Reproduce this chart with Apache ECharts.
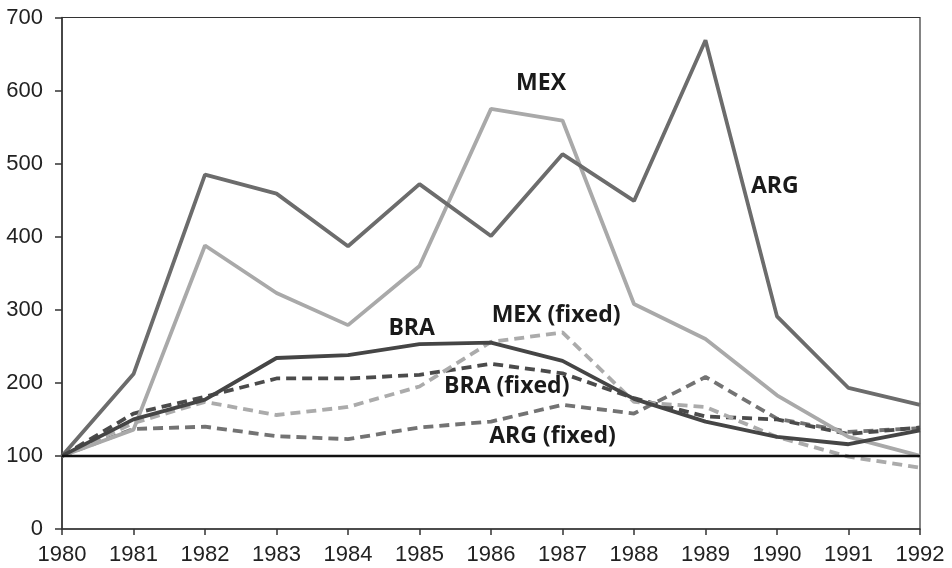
<!DOCTYPE html>
<html>
<head>
<meta charset="utf-8">
<script src="https://cdn.jsdelivr.net/npm/echarts@6/dist/echarts.min.js"></script>
<style>html,body{margin:0;padding:0;background:#fff}#c{width:952px;height:568px}</style>
</head>
<body>
<div id="c"></div>
<script>
var years = [1980,1981,1982,1983,1984,1985,1986,1987,1988,1989,1990,1991,1992];
var arg      = [100,212,485,459,387,472,401,513,449,669,291,193,170];
var mex      = [100,136,388,323,279,360,575,559,308,260,183,126,100];
var bra      = [100,150,177,234,238,253,255,230,178,147,126,116,135];
var argFixed = [100,137,140,127,123,139,147,170,158,208,151,133,138];
var braFixed = [100,158,181,206,206,211,226,213,179,154,150,130,139];
var mexFixed = [100,145,174,156,167,195,256,269,174,167,126,99,84];
var base     = [100,100,100,100,100,100,100,100,100,100,100,100,100];
var yTicks   = [0,100,200,300,400,500,600,700];

var labelNames = ['MEX','ARG','BRA','MEX (fixed)','BRA (fixed)','ARG (fixed)'];
var labelX     = [1986.70,1989.97,1984.89,1986.91,1986.22,1986.86];
var labelY     = [610,469,275,292,195,126];

function pairs(v){ return years.map(function(y,i){ return [y, v[i]]; }); }

var chart = echarts.init(document.getElementById('c'), null, {renderer:'canvas'});
function solid(name, data, color, w){
  return {name:name, type:'line', data:pairs(data), symbol:'none', animation:false,
    lineStyle:{color:color, width:w, type:'solid'}, itemStyle:{color:color}};
}
function dashed(name, data, color, w){
  return {name:name, type:'line', data:pairs(data), symbol:'none', animation:false,
    lineStyle:{color:color, width:w, type:[10,6]}, itemStyle:{color:color}};
}
var series = [
  dashed('ARG (fixed)', argFixed, '#737373', 3.8),
  dashed('BRA (fixed)', braFixed, '#4b4b4b', 3.8),
  dashed('MEX (fixed)', mexFixed, '#ababab', 3.8),
  solid('MEX', mex, '#a9a9a9', 3.8),
  solid('ARG', arg, '#6c6c6c', 3.8),
  solid('BRA', bra, '#454545', 3.8),
  solid('base', base, '#111111', 2.5)
];
series[6].markPoint = {
  symbol:'circle', symbolSize:0, silent:true, animation:false,
  label:{show:true, position:'inside', formatter:'{b}', color:'#1a1a1a',
    fontFamily:'Open Sans', fontWeight:'bold', fontSize:23},
  data: labelNames.map(function(n,i){ return {name:n, coord:[labelX[i], labelY[i]]}; })
};

chart.setOption({
  backgroundColor:'#fff',
  animation:false,
  grid:{left:62, right:32, top:17.5, bottom:39, show:true, borderColor:'#333', borderWidth:1.2, backgroundColor:'transparent'},
  xAxis:{type:'value', min:years[0], max:years[years.length-1], interval:1,
    axisLine:{show:true, onZero:false, lineStyle:{color:'#333', width:1.5}},
    axisTick:{show:true, inside:false, length:6, lineStyle:{color:'#333', width:1.5}},
    splitLine:{show:false},
    axisLabel:{margin:15, color:'#222', fontFamily:'Liberation Sans', fontSize:22, formatter:function(v){return String(v);}}
  },
  yAxis:{type:'value', min:yTicks[0], max:yTicks[yTicks.length-1], interval:100,
    axisLine:{show:true, lineStyle:{color:'#333', width:1.5}},
    axisTick:{show:true, inside:false, length:7, lineStyle:{color:'#333', width:1.5}},
    splitLine:{show:false},
    axisLabel:{margin:19, color:'#222', fontFamily:'Liberation Sans', fontSize:22}
  },
  series:series
});
</script>
</body>
</html>
